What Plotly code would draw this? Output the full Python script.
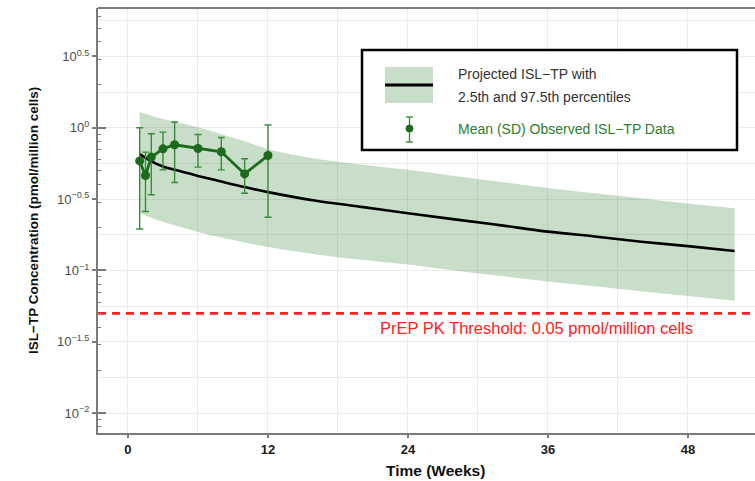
import numpy as np
import plotly.graph_objects as go

# ---- data -------------------------------------------------------------
# Model projection (median with 2.5th / 97.5th percentile band), pmol/million cells
proj_weeks = [1, 2, 3, 4, 6, 8, 10, 12, 16, 20, 24, 28, 32, 36, 40, 44, 48, 52]
proj_median = [0.653, 0.582, 0.536, 0.507, 0.460, 0.420, 0.384, 0.354, 0.309,
               0.279, 0.252, 0.228, 0.207, 0.187, 0.173, 0.159, 0.148, 0.137]
proj_upper = [1.288, 1.216, 1.153, 1.102, 1.007, 0.902, 0.804, 0.708, 0.610,
              0.552, 0.507, 0.459, 0.417, 0.378, 0.348, 0.321, 0.295, 0.273]
proj_lower = [0.253, 0.234, 0.219, 0.207, 0.186, 0.170, 0.157, 0.146, 0.130,
              0.119, 0.110, 0.100, 0.0912, 0.0836, 0.0773, 0.0715, 0.0661, 0.0614]

# Observed mean (SD) data
obs_weeks = [1, 1.5, 2, 3, 4, 6, 8, 10, 12]
obs_mean = [0.586, 0.463, 0.623, 0.712, 0.760, 0.716, 0.679, 0.475, 0.639]
obs_high = [1.000, 0.675, 0.908, 0.933, 1.097, 0.897, 0.855, 0.606, 1.045]
obs_low = [0.195, 0.259, 0.339, 0.507, 0.413, 0.530, 0.507, 0.348, 0.236]

threshold = 0.05
threshold_label = "PrEP PK Threshold: 0.05 pmol/million cells"

x_ticks = [0, 12, 24, 36, 48]
y_tick_exps = [-2, -1.5, -1, -0.5, 0, 0.5]
x_range = [-2.57, 53.75]
y_range = [-2.14, 0.84]

# ---- style ------------------------------------------------------------
FONT = "Liberation Sans, Arial, sans-serif"
GREEN = "#1b6b1b"
ERR_GREEN = "#3b8a3b"
BAND = "rgba(0,100,0,0.21)"
AXIS = "#7a7a7a"
GRID = "#ebebeb"
RED = "#ff2222"

W, H = 755, 481
L, R, T, B = 98, 0, 8, 48
PW, PH = W - L - R, H - T - B


def px_x(px):
    return (px - L) / PW


def px_y(py):
    return (T + PH - py) / PH


def fmt_exp(e):
    s = ("%g" % e).replace("-", "\u2212")
    return "10<sup>%s</sup>" % s


fig = go.Figure()

# percentile band
fig.add_trace(go.Scatter(x=proj_weeks, y=proj_lower, mode="lines",
                         line=dict(width=0, shape="spline"), hoverinfo="skip",
                         showlegend=False))
fig.add_trace(go.Scatter(x=proj_weeks, y=proj_upper, mode="lines",
                         line=dict(width=0, shape="spline"), fill="tonexty",
                         fillcolor=BAND, hoverinfo="skip", showlegend=False))
# median projection
fig.add_trace(go.Scatter(x=proj_weeks, y=proj_median, mode="lines",
                         line=dict(color="black", width=2.6, shape="spline"),
                         showlegend=False))

# observed mean with SD bars
err_plus = [h - m for h, m in zip(obs_high, obs_mean)]
err_minus = [m - l for m, l in zip(obs_mean, obs_low)]
fig.add_trace(go.Scatter(
    x=obs_weeks, y=obs_mean, mode="lines+markers",
    line=dict(color=GREEN, width=2.8),
    marker=dict(color=GREEN, size=9),
    error_y=dict(type="data", symmetric=False, array=err_plus,
                 arrayminus=err_minus, color=ERR_GREEN, thickness=1.4, width=3.5),
    showlegend=False))

# threshold line
fig.add_trace(go.Scatter(x=x_range, y=[threshold, threshold], mode="lines",
                         line=dict(color=RED, width=2.6, dash="8px,6px"),
                         yaxis="y2", showlegend=False, hoverinfo="skip"))

fig.add_annotation(x=35.05, y=np.log10(threshold), xref="x", yref="y",
                   yshift=-14.6, text=threshold_label, showarrow=False,
                   font=dict(family=FONT, size=16.5, color=RED),
                   xanchor="center", yanchor="middle")

# ---- axes -------------------------------------------------------------
half_decades = [10 ** e for e in y_tick_exps]
decades = [10 ** e for e in range(-3, 2)]
quarter = [10 ** (q / 4) for q in range(-12, 4)]
log_minor = [k * 10 ** d for d in range(-3, 1) for k in range(2, 10)]

fig.update_layout(
    width=W, height=H,
    margin=dict(l=L, r=R, t=T, b=B, autoexpand=False),
    plot_bgcolor="rgba(0,0,0,0)", paper_bgcolor="white",
    showlegend=False,
    xaxis=dict(
        range=x_range, tickvals=x_ticks, ticks="outside", ticklen=3,
        tickcolor=AXIS, tickwidth=1.5, showline=True, linecolor=AXIS, linewidth=2,
        showgrid=True, gridcolor=GRID, gridwidth=1, zeroline=False,
        minor=dict(dtick=6, tick0=0, showgrid=True, gridcolor=GRID, ticks=""),
        tickfont=dict(family=FONT, size=13, color="#1a1a1a", weight="bold"),
        automargin=False,
    ),
    yaxis=dict(
        type="log", range=y_range, tickmode="array", tickvals=half_decades,
        ticktext=[fmt_exp(e) for e in y_tick_exps],
        ticks="outside", ticklen=4, tickcolor=AXIS, tickwidth=1.5,
        showline=True, linecolor=AXIS, linewidth=2, showgrid=False, zeroline=False,
        minor=dict(tickmode="array", tickvals=log_minor, ticks="inside",
                   ticklen=3, tickcolor=AXIS, tickwidth=1.2, showgrid=False),
        tickfont=dict(family=FONT, size=13, color="#4d4d4d"),
        automargin=False,
    ),
    yaxis2=dict(
        type="log", range=y_range, overlaying="y", side="left",
        tickmode="array", tickvals=decades, ticks="inside", ticklen=8,
        tickcolor=AXIS, tickwidth=1.5, showticklabels=False, showline=False,
        showgrid=True, gridcolor=GRID, gridwidth=1, zeroline=False,
        minor=dict(tickmode="array", tickvals=quarter, ticks="",
                   showgrid=True, gridcolor=GRID, gridwidth=1),
    ),
)

# axis titles
fig.add_annotation(x=px_x(435), y=px_y(470), xref="paper", yref="paper",
                   text="Time (Weeks)", showarrow=False,
                   xanchor="center", yanchor="middle",
                   font=dict(family=FONT, size=15.5, color="#111111", weight="bold"))
fig.add_annotation(x=px_x(33), y=px_y(221), xref="paper", yref="paper",
                   text="ISL\u2212TP Concentration (pmol/million cells)",
                   textangle=-90, showarrow=False,
                   xanchor="center", yanchor="middle",
                   font=dict(family=FONT, size=13.5, color="#111111", weight="bold"))

# top border of the panel
fig.add_shape(type="line", xref="paper", yref="paper", x0=0, x1=1, y0=1, y1=1,
              line=dict(color=AXIS, width=2))

# ---- legend box -------------------------------------------------------
fig.add_shape(type="rect", xref="paper", yref="paper",
              x0=px_x(362), x1=px_x(737), y0=px_y(150), y1=px_y(50),
              line=dict(color="black", width=2.5), fillcolor="white")
fig.add_shape(type="rect", xref="paper", yref="paper",
              x0=px_x(385), x1=px_x(433), y0=px_y(103), y1=px_y(67),
              line=dict(width=0), fillcolor=BAND)
fig.add_shape(type="line", xref="paper", yref="paper",
              x0=px_x(385), x1=px_x(433), y0=px_y(85), y1=px_y(85),
              line=dict(color="black", width=3))
fig.add_shape(type="line", xref="paper", yref="paper",
              x0=px_x(409.5), x1=px_x(409.5), y0=px_y(142), y1=px_y(117),
              line=dict(color=ERR_GREEN, width=1.4))
for cy in (117, 142):
    fig.add_shape(type="line", xref="paper", yref="paper",
                  x0=px_x(406), x1=px_x(413), y0=px_y(cy), y1=px_y(cy),
                  line=dict(color=ERR_GREEN, width=1.4))
fig.add_shape(type="circle", xref="paper", yref="paper",
              x0=px_x(406), x1=px_x(413), y0=px_y(132), y1=px_y(125),
              line=dict(color=GREEN, width=1), fillcolor=GREEN)

legend_lines = [
    ("Projected ISL\u2212TP with", 74, "#333333"),
    ("2.5th and 97.5th percentiles", 97, "#333333"),
    ("Mean (SD) Observed ISL\u2212TP Data", 129, "#2e7d2e"),
]
for txt, cy, col in legend_lines:
    fig.add_annotation(x=px_x(456), y=px_y(cy), xref="paper", yref="paper",
                       text=txt, showarrow=False, xanchor="left", yanchor="middle",
                       font=dict(family=FONT, size=14, color=col))

fig.write_html("out.html")
